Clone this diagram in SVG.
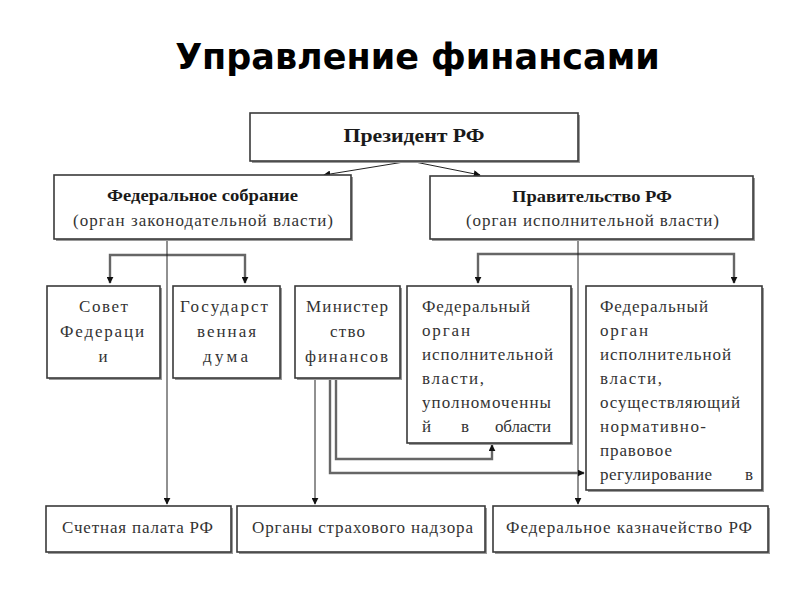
<svg xmlns="http://www.w3.org/2000/svg" width="800" height="600" viewBox="0 0 800 600">
<defs>
<marker id="ah" viewBox="0 0 10 10" refX="9" refY="5" markerWidth="7" markerHeight="7" markerUnits="userSpaceOnUse" orient="auto">
<path d="M0,0 L10,5 L0,10 Z" fill="#111"/>
</marker>
<style>
.box{fill:#fff;stroke:#3a3a3a;stroke-width:1.6}
.sh{fill:#9a9a9a}
.t{font-family:"Liberation Serif","DejaVu Serif","Times New Roman",serif;font-size:17px;fill:#333}
.b{font-weight:bold;fill:#1a1a1a}
.c{text-anchor:middle}
.thin{fill:none;stroke:#222;stroke-width:1}
.br{fill:none;stroke:#666;stroke-width:2.4}
.title{font-family:"DejaVu Sans",sans-serif;font-weight:bold;font-size:35px;fill:#000;text-anchor:middle}
</style>
</defs>
<rect width="800" height="600" fill="#fff"/>
<text class="title" x="417.5" y="69">Управление финансами</text>

<g id="connectors">
<path class="thin" d="M410,161 L324,175" marker-end="url(#ah)"/>
<path class="thin" d="M410,161 L480,175" marker-end="url(#ah)"/>
<path class="br" d="M167,255 H110 V283" marker-end="url(#ah)"/>
<path class="br" d="M167,255 H245 V283" marker-end="url(#ah)"/>
<path class="br" d="M578,254 H478 V283" marker-end="url(#ah)"/>
<path class="br" d="M578,254 H734 V283" marker-end="url(#ah)"/>
<path class="thin" d="M167,239 V504" marker-end="url(#ah)"/>
<path class="thin" d="M578,239 V504" marker-end="url(#ah)"/>
<path class="thin" d="M315,379 V504" marker-end="url(#ah)"/>
<path class="br" d="M336,379 V459 H492 V445" marker-end="url(#ah)"/>
<path class="br" d="M330,379 V473 H584" marker-end="url(#ah)"/>
</g>

<g id="president">
<rect class="sh" x="252" y="115" width="328" height="48"/>
<rect class="box" x="250" y="113" width="328" height="48"/>
<text class="t b c" x="414" y="142" style="font-size:18px" textLength="141" lengthAdjust="spacingAndGlyphs">Президент РФ</text>
</g>

<g id="fed-assembly">
<rect class="sh" x="56" y="177" width="297" height="64"/>
<rect class="box" x="54" y="175" width="297" height="64"/>
<text class="t b c" x="202.5" y="201" textLength="191" lengthAdjust="spacingAndGlyphs">Федеральное собрание</text>
<text class="t c" x="203" y="226" textLength="260">(орган законодательной власти)</text>
</g>

<g id="government">
<rect class="sh" x="432" y="178" width="323" height="63"/>
<rect class="box" x="430" y="176" width="323" height="63"/>
<text class="t b c" x="592" y="202" textLength="160" lengthAdjust="spacingAndGlyphs">Правительство РФ</text>
<text class="t c" x="592.5" y="226" textLength="253">(орган исполнительной власти)</text>
</g>

<g id="sovet">
<rect class="sh" x="49" y="288" width="113" height="92"/>
<rect class="box" x="47" y="286" width="113" height="92"/>
<text class="t c" x="103.5" y="312" textLength="49">Совет</text>
<text class="t c" x="102" y="337" textLength="84">Федераци</text>
<text class="t c" x="103" y="362">и</text>
</g>

<g id="duma">
<rect class="sh" x="175" y="288" width="107" height="92"/>
<rect class="box" x="173" y="286" width="107" height="92"/>
<text class="t c" x="224" y="312" textLength="88">Государст</text>
<text class="t c" x="226.5" y="337" textLength="59">венная</text>
<text class="t c" x="225.5" y="362" textLength="45">дума</text>
</g>

<g id="minfin">
<rect class="sh" x="297" y="288" width="105" height="92"/>
<rect class="box" x="295" y="286" width="105" height="92"/>
<text class="t c" x="347" y="312" textLength="82">Министер</text>
<text class="t c" x="347.5" y="337" textLength="35">ство</text>
<text class="t c" x="346.5" y="362" textLength="83">финансов</text>
</g>

<g id="fed-organ-1">
<rect class="sh" x="409" y="288" width="164" height="157"/>
<rect class="box" x="407" y="286" width="164" height="157"/>
<text class="t" x="422" y="312" textLength="108">Федеральный</text>
<text class="t" x="422" y="336" textLength="48">орган</text>
<text class="t" x="422" y="360" textLength="131">исполнительной</text>
<text class="t" x="422" y="384" textLength="62">власти,</text>
<text class="t" x="422" y="408" textLength="129">уполномоченны</text>
<text class="t" x="422" y="432">й</text>
<text class="t c" x="465" y="432">в</text>
<text class="t" x="551" y="432" text-anchor="end" textLength="56">области</text>
</g>

<g id="fed-organ-2">
<rect class="sh" x="588" y="288" width="176" height="204"/>
<rect class="box" x="586" y="286" width="176" height="204"/>
<text class="t" x="600" y="312" textLength="108">Федеральный</text>
<text class="t" x="600" y="336" textLength="48">орган</text>
<text class="t" x="600" y="360" textLength="131">исполнительной</text>
<text class="t" x="600" y="384" textLength="62">власти,</text>
<text class="t" x="600" y="408" textLength="140">осуществляющий</text>
<text class="t" x="600" y="432" textLength="106">нормативно-</text>
<text class="t" x="600" y="456" textLength="72">правовое</text>
<text class="t" x="600" y="480" textLength="112">регулирование</text>
<text class="t" x="753" y="480" text-anchor="end">в</text>
</g>

<g id="schetnaya">
<rect class="sh" x="48" y="508" width="185" height="46"/>
<rect class="box" x="46" y="506" width="185" height="46"/>
<text class="t c" x="137.5" y="533" textLength="151">Счетная палата РФ</text>
</g>

<g id="strakh">
<rect class="sh" x="239" y="508" width="248" height="46"/>
<rect class="box" x="237" y="506" width="248" height="46"/>
<text class="t c" x="362.5" y="533" textLength="221">Органы страхового надзора</text>
</g>

<g id="kaznach">
<rect class="sh" x="495" y="508" width="275" height="46"/>
<rect class="box" x="493" y="506" width="275" height="46"/>
<text class="t c" x="629" y="533" textLength="246">Федеральное казначейство РФ</text>
</g>
</svg>
